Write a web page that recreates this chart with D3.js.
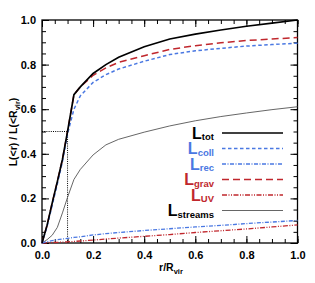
<!DOCTYPE html>
<html>
<head>
<meta charset="utf-8">
<script src="https://cdn.jsdelivr.net/npm/d3@7"></script>
<style>
  body { margin: 0; background: #fff; }
  text { font-family: "Liberation Sans", Arial, sans-serif; font-weight: bold; }
</style>
</head>
<body>
<div id="chart"></div>
<script>
// radius grid (r / R_vir) and cumulative luminosity fractions
const rGrid   = [0, 0.02, 0.04, 0.06, 0.08, 0.1, 0.125, 0.15, 0.2, 0.25, 0.3, 0.4, 0.5, 0.6, 0.7, 0.8, 0.9, 1.0];
const lTot    = [0, 0.08, 0.18, 0.275, 0.375, 0.5, 0.665, 0.70, 0.76, 0.80, 0.833, 0.88, 0.915, 0.937, 0.955, 0.972, 0.986, 1.0];
const lColl   = [0, 0.075, 0.17, 0.265, 0.365, 0.49, 0.60, 0.66, 0.72, 0.755, 0.78, 0.815, 0.845, 0.862, 0.873, 0.883, 0.89, 0.896];
const lRec    = [0, 0.006, 0.011, 0.015, 0.018, 0.021, 0.025, 0.028, 0.036, 0.042, 0.047, 0.056, 0.064, 0.072, 0.079, 0.087, 0.094, 0.101];
const lGrav   = [0, 0.08, 0.18, 0.275, 0.375, 0.5, 0.665, 0.70, 0.752, 0.785, 0.81, 0.84, 0.868, 0.885, 0.898, 0.908, 0.915, 0.921];
const lUV     = [0, 0.001, 0.002, 0.003, 0.004, 0.005, 0.007, 0.009, 0.013, 0.018, 0.022, 0.030, 0.038, 0.047, 0.055, 0.063, 0.072, 0.081];
const lStream = [0, 0.015, 0.035, 0.07, 0.135, 0.205, 0.285, 0.33, 0.395, 0.44, 0.465, 0.497, 0.525, 0.548, 0.567, 0.583, 0.598, 0.611];

const xTicks = [0, 0.2, 0.4, 0.6, 0.8, 1.0];
const yTicks = [0, 0.2, 0.4, 0.6, 0.8, 1.0];
const minorTicks = d3.range(0, 1.0001, 0.05);

// half-light marker
const halfR = 0.1, halfL = 0.5;

const blue = "#4a78e2", red = "#c0272d";
const series = [
  {name: "tot",     vals: lTot,    color: "#000",  text: "#000", width: 1.7, dash: null},
  {name: "coll",    vals: lColl,   color: blue,    text: blue,   width: 1.5, dash: "3.5,2.5"},
  {name: "rec",     vals: lRec,    color: blue,    text: blue,   width: 1.3, dash: "4,1.5,1,1.5"},
  {name: "grav",    vals: lGrav,   color: red,     text: red,    width: 1.5, dash: "7,4"},
  {name: "UV",      vals: lUV,     color: red,     text: red,    width: 1.3, dash: "5,1.5,1,1.5,1,1.5"},
  {name: "streams", vals: lStream, color: "#555",  text: "#000", width: 0.9, dash: null}
];

const width = 315, height = 283;
const margin = {top: 20, left: 42, right: 17.5, bottom: 40};
const w = width - margin.left - margin.right;
const h = height - margin.top - margin.bottom;

const svg = d3.select("#chart").append("svg")
  .attr("width", width).attr("height", height);
const g = svg.append("g").attr("transform", `translate(${margin.left},${margin.top})`);

const x = d3.scaleLinear().domain([0, 1]).range([0, w]);
const y = d3.scaleLinear().domain([0, 1]).range([h, 0]);

// minor ticks on all four sides
g.append("g").attr("transform", `translate(0,${h})`).call(d3.axisBottom(x).tickValues(minorTicks).tickSize(-4).tickFormat(""));
g.append("g").call(d3.axisTop(x).tickValues(minorTicks).tickSize(-4).tickFormat(""));
g.append("g").call(d3.axisLeft(y).tickValues(minorTicks).tickSize(-4).tickFormat(""));
g.append("g").attr("transform", `translate(${w},0)`).call(d3.axisRight(y).tickValues(minorTicks).tickSize(-4).tickFormat(""));

// major ticks
g.append("g").attr("class", "xaxis").attr("transform", `translate(0,${h})`)
  .call(d3.axisBottom(x).tickValues(xTicks).tickSize(-7).tickPadding(8).tickFormat(d3.format(".1f")));
g.append("g").call(d3.axisTop(x).tickValues(xTicks).tickSize(-7).tickFormat(""));
g.append("g").attr("class", "yaxis")
  .call(d3.axisLeft(y).tickValues(yTicks).tickSize(-7).tickPadding(6).tickFormat(d3.format(".1f")));
g.append("g").attr("transform", `translate(${w},0)`).call(d3.axisRight(y).tickValues(yTicks).tickSize(-7).tickFormat(""));

g.selectAll(".domain").remove();
g.selectAll(".tick line").attr("stroke", "#000").attr("stroke-width", 1);
g.selectAll(".xaxis text, .yaxis text").attr("font-size", 11).attr("fill", "#000")
  .attr("font-family", "Liberation Sans, Arial, sans-serif").attr("font-weight", "bold");

g.append("rect").attr("width", w).attr("height", h)
  .attr("fill", "none").attr("stroke", "#000").attr("stroke-width", 1.3);

// dotted guide lines
g.append("path")
  .attr("d", `M${x(0)},${y(halfL)}L${x(halfR)},${y(halfL)}L${x(halfR)},${y(0)}`)
  .attr("fill", "none").attr("stroke", "#000").attr("stroke-width", 1).attr("stroke-dasharray", "1,1.2");

// curves
const line = d3.line().x(d => x(d[0])).y(d => y(d[1]));
series.slice().reverse().forEach(s => {
  g.append("path")
    .datum(rGrid.map((r, i) => [r, s.vals[i]]))
    .attr("d", line)
    .attr("fill", "none")
    .attr("stroke", s.color)
    .attr("stroke-width", s.width)
    .attr("stroke-dasharray", s.dash);
});

// legend
const leg = svg.append("g");
series.forEach((s, i) => {
  const ly = 133 + i * 15.5;
  leg.append("line").attr("x1", 222).attr("x2", 283).attr("y1", ly).attr("y2", ly)
    .attr("stroke", s.color).attr("stroke-width", s.width).attr("stroke-dasharray", s.dash);
  const t = leg.append("text").attr("x", 214).attr("y", ly + 5.5)
    .attr("text-anchor", "end").attr("fill", s.text);
  t.append("tspan").attr("font-size", 16).text("L");
  t.append("tspan").attr("font-size", 9.5).attr("dy", 1.8).text(s.name);
});

// axis titles
const xt = svg.append("text").attr("x", 171).attr("y", 271).attr("text-anchor", "middle").attr("font-size", 10.5);
xt.append("tspan").text("r/R");
xt.append("tspan").attr("font-size", 7.5).attr("dy", 2.5).text("vir");

const yt = svg.append("text").attr("transform", "translate(17,132) rotate(-90)")
  .attr("text-anchor", "middle").attr("font-size", 10.5);
yt.append("tspan").text("L(<r) / L(<R");
yt.append("tspan").attr("font-size", 7.5).attr("dy", 2.5).text("vir");
yt.append("tspan").attr("dy", -2.5).text(")");
</script>
</body>
</html>
